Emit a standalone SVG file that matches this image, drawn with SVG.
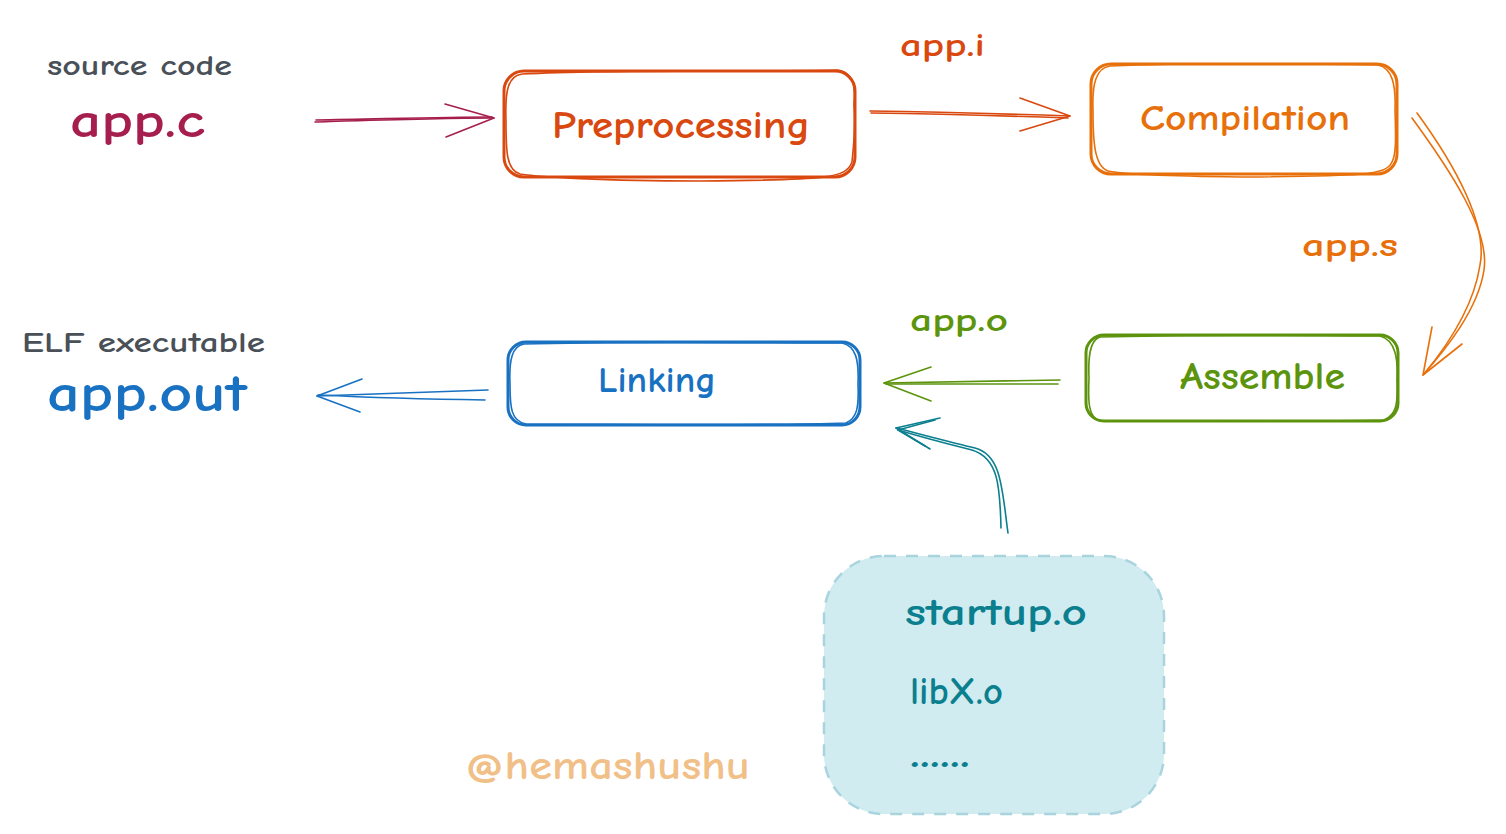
<svg xmlns="http://www.w3.org/2000/svg" width="1506" height="834" viewBox="0 0 1506 834">
<style>
text{font-family:"Comic Neue","Noto Sans","DejaVu Sans",sans-serif;font-weight:bold}
.box{fill:none;stroke-width:3;stroke-linecap:round;stroke-linejoin:round}
.box2{fill:none;stroke-width:1.6;stroke-linecap:round}
.ln{fill:none;stroke-width:1.6;stroke-linecap:round;stroke-linejoin:round}
</style>
<rect width="1506" height="834" fill="#ffffff"/>

<g id="source-label">
<text x="47" y="75" font-size="28" fill="#495057" textLength="185" lengthAdjust="spacingAndGlyphs">source code</text>
<text x="70" y="137" font-size="48" fill="#a61e4d" textLength="135" lengthAdjust="spacingAndGlyphs">app.c</text>
</g>

<g id="preprocessing">
<rect class="box" x="504" y="71" width="351" height="106" rx="20" stroke="#d9480f"/>
<path class="box2" stroke="#d9480f" d="M522,74 C620,69 760,72 838,70 C852,72 856,84 854,104 C856,130 853,150 852,162 C846,178 830,180 700,181 C600,181 540,177 520,174 C506,170 506,150 506,120 C505,90 508,76 522,74"/>
<text x="552" y="138" font-size="38" fill="#d9480f" textLength="258" lengthAdjust="spacingAndGlyphs">Preprocessing</text>
</g>

<g id="compilation">
<rect class="box" x="1091" y="64" width="306" height="110" rx="20" stroke="#e8700b"/>
<path class="box2" stroke="#e8700b" d="M1110,66 C1200,62 1320,64 1378,65 C1392,68 1396,84 1395,110 C1396,140 1396,155 1392,162 C1386,176 1360,176 1240,177 C1160,176 1120,174 1108,171 C1094,166 1093,140 1093,110 C1092,84 1096,68 1110,66"/>
<text x="1140" y="130" font-size="36" fill="#e8700b" textLength="210" lengthAdjust="spacingAndGlyphs">Compilation</text>
</g>

<g id="assemble">
<rect class="box" x="1086" y="335" width="312" height="86" rx="18" stroke="#5c940d"/>
<path class="box2" stroke="#5c940d" d="M1100,337 C1200,334 1320,336 1380,336 C1396,340 1398,360 1397,380 C1398,405 1396,415 1384,420 C1300,422 1180,420 1100,421 C1088,418 1088,400 1089,378 C1088,356 1090,340 1100,337"/>
<text x="1180" y="389" font-size="38" fill="#5c940d" textLength="165" lengthAdjust="spacingAndGlyphs">Assemble</text>
</g>

<g id="linking">
<rect class="box" x="508" y="342" width="352" height="83" rx="18" stroke="#1971c2"/>
<path class="box2" stroke="#1971c2" d="M524,344 C620,341 760,343 842,343 C856,346 859,360 858,384 C859,408 857,418 846,423 C760,426 620,424 526,424 C511,421 510,408 510,384 C509,360 512,346 524,344"/>
<text x="598" y="392" font-size="36" fill="#1971c2" textLength="118" lengthAdjust="spacingAndGlyphs">Linking</text>
</g>

<g id="output-label">
<text x="22" y="352" font-size="28" fill="#495057" textLength="243" lengthAdjust="spacingAndGlyphs">ELF executable</text>
<text x="47" y="411" font-size="52" fill="#1971c2" textLength="200" lengthAdjust="spacingAndGlyphs">app.out</text>
</g>

<g id="objects">
<rect x="824" y="556" width="340" height="258" rx="60" fill="#d0ecf1" stroke="#a9d4dd" stroke-width="2.5" stroke-dasharray="12 10"/>
<text x="905" y="625" font-size="38" fill="#0c7f8f" textLength="182" lengthAdjust="spacingAndGlyphs">startup.o</text>
<text x="910" y="704" font-size="38" fill="#0c7f8f" textLength="93" lengthAdjust="spacingAndGlyphs">libX.o</text>
<text x="910" y="767" font-size="40" fill="#0c7f8f" textLength="60" lengthAdjust="spacingAndGlyphs">......</text>
</g>

<g id="labels">
<text x="900" y="56" font-size="32" fill="#d9480f" textLength="85" lengthAdjust="spacingAndGlyphs">app.i</text>
<text x="1302" y="256" font-size="32" fill="#e8700b" textLength="96" lengthAdjust="spacingAndGlyphs">app.s</text>
<text x="910" y="331" font-size="32" fill="#5c940d" textLength="98" lengthAdjust="spacingAndGlyphs">app.o</text>
</g>

<g id="connectors">
<g stroke="#a61e4d" class="ln">
<path d="M315,122 C380,120 440,118 494,118"/>
<path d="M316,120 C380,119 440,117 492,117"/>
<path d="M445,104 L494,118 L446,137"/>
</g>
<g stroke="#d9480f" class="ln">
<path d="M870,111 C940,112 1010,114 1070,116"/>
<path d="M871,113 C940,114 1010,116 1068,118"/>
<path d="M1020,98 L1070,116 L1020,131"/>
</g>
<g stroke="#e8700b" class="ln">
<path d="M1412,118 C1450,170 1490,230 1484,270 C1478,310 1445,350 1423,375"/>
<path d="M1417,113 C1455,165 1488,225 1480,265 C1474,305 1448,345 1424,374"/>
<path d="M1432,327 L1423,375 L1462,344"/>
</g>
<g stroke="#5c940d" class="ln">
<path d="M1060,380 C1000,381 930,382 884,383"/>
<path d="M1058,384 C1000,384 930,384 886,384"/>
<path d="M931,367 L884,383 L931,401"/>
</g>
<g stroke="#1971c2" class="ln">
<path d="M488,390 C420,392 360,394 317,396"/>
<path d="M485,400 C420,399 360,397 318,395"/>
<path d="M362,379 L317,396 L360,412"/>
</g>
<g stroke="#0c7f8f" class="ln">
<path d="M1008,533 C1002,490 1002,455 975,448 C950,442 920,434 896,428"/>
<path d="M1001,528 C1000,485 998,458 972,450 C948,444 918,436 898,430"/>
<path d="M940,418 L896,428 L930,449"/>
<path d="M935,420 L898,430 L925,446"/>
</g>
</g>

<g id="watermark">
<text x="465" y="779" font-size="40" fill="#f0b878" fill-opacity="0.9" textLength="285" lengthAdjust="spacingAndGlyphs">@hemashushu</text>
</g>
</svg>
